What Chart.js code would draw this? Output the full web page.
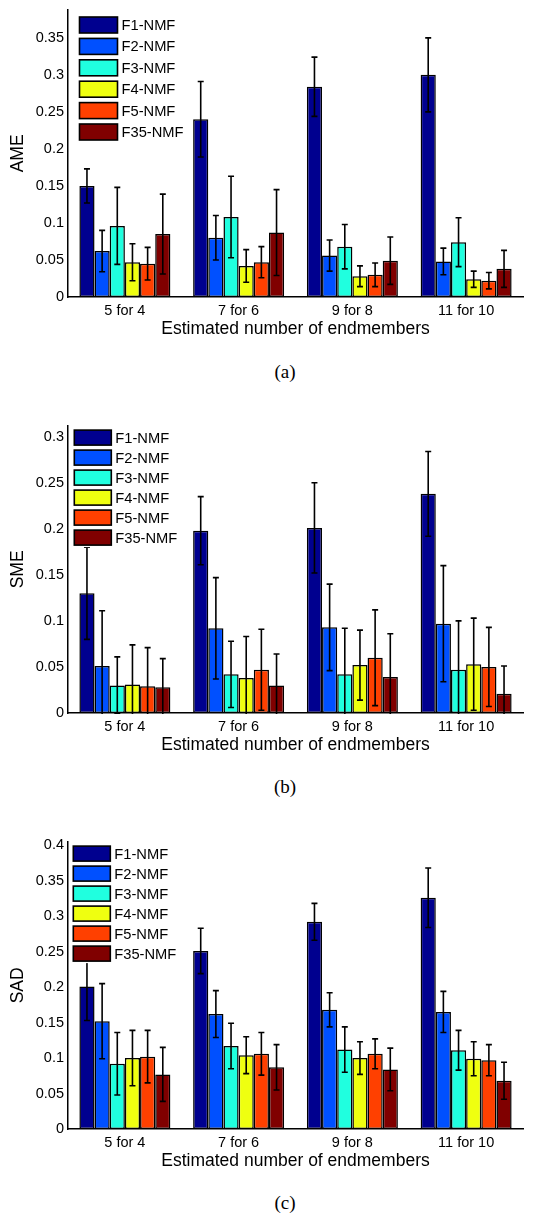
<!DOCTYPE html>
<html>
<head>
<meta charset="utf-8">
<title>AME / SME / SAD by estimated number of endmembers</title>
<script src="https://cdn.jsdelivr.net/npm/chart.js@4.4.1/dist/chart.umd.min.js"></script>
<style>
  body { margin: 0; background: #fff; width: 544px; height: 1214px; position: relative; overflow: hidden; }
  canvas { position: absolute; left: 0; }
  .caption { position: absolute; left: 285px; transform: translateX(-50%); line-height: 20px;
             font-family: 'Liberation Serif', 'Times New Roman', serif; font-size: 19px; color: #000; }
</style>
</head>
<body>
<canvas id="chartA" width="544" height="350" style="top:-3px"></canvas>
<div class="caption" style="top:362px">(a)</div>
<canvas id="chartB" width="544" height="350" style="top:413px"></canvas>
<div class="caption" style="top:777px">(b)</div>
<canvas id="chartC" width="544" height="350" style="top:829px"></canvas>
<div class="caption" style="top:1193px">(c)</div>

<script>
const categories = ['5 for 4', '7 for 6', '9 for 8', '11 for 10'];
const methods = ['F1-NMF', 'F2-NMF', 'F3-NMF', 'F4-NMF', 'F5-NMF', 'F35-NMF'];
const method_colors = ['#00008F', '#0050FF', '#20FFDF', '#EFFF10', '#FF4000', '#800000'];

// one row per method, one column per category (mean and std)
const ame_values = [
    [0.150, 0.240, 0.284, 0.300],
    [0.062, 0.080, 0.056, 0.048],
    [0.096, 0.108, 0.068, 0.074],
    [0.047, 0.042, 0.028, 0.024],
    [0.045, 0.047, 0.030, 0.022],
    [0.085, 0.087, 0.049, 0.038]
];
const ame_errors = [
    [0.023, 0.051, 0.040, 0.050],
    [0.028, 0.030, 0.021, 0.018],
    [0.052, 0.055, 0.030, 0.033],
    [0.025, 0.022, 0.014, 0.011],
    [0.022, 0.021, 0.016, 0.011],
    [0.054, 0.058, 0.032, 0.025]
];

const sme_values = [
    [0.130, 0.198, 0.201, 0.238],
    [0.051, 0.092, 0.093, 0.097],
    [0.030, 0.042, 0.042, 0.047],
    [0.031, 0.038, 0.052, 0.053],
    [0.029, 0.047, 0.060, 0.050],
    [0.028, 0.030, 0.039, 0.021]
];
const sme_errors = [
    [0.050, 0.037, 0.049, 0.046],
    [0.060, 0.055, 0.047, 0.063],
    [0.031, 0.036, 0.050, 0.053],
    [0.043, 0.045, 0.038, 0.050],
    [0.042, 0.044, 0.052, 0.043],
    [0.031, 0.034, 0.047, 0.030]
];

const sad_values = [
    [0.201, 0.251, 0.292, 0.326],
    [0.152, 0.162, 0.168, 0.165],
    [0.092, 0.117, 0.112, 0.111],
    [0.100, 0.104, 0.100, 0.099],
    [0.102, 0.106, 0.106, 0.097],
    [0.077, 0.087, 0.084, 0.068]
];
const sad_errors = [
    [0.048, 0.032, 0.026, 0.042],
    [0.053, 0.033, 0.024, 0.029],
    [0.044, 0.032, 0.032, 0.028],
    [0.039, 0.026, 0.023, 0.024],
    [0.037, 0.030, 0.021, 0.022],
    [0.038, 0.032, 0.030, 0.026]
];

Chart.defaults.font.family = "'Liberation Sans', Arial, sans-serif";
Chart.defaults.color = '#000';

// draws the +/- std whiskers on top of the bars, clipped to the axes like matlab does
const errorBarPlugin = {
    id: 'errorBars',
    afterDatasetsDraw(chart) {
        const {ctx, chartArea, scales} = chart;
        const y = scales.y;
        ctx.save();
        ctx.beginPath();
        ctx.rect(chartArea.left, chartArea.top, chartArea.right - chartArea.left, chartArea.bottom - chartArea.top + 1);
        ctx.clip();
        ctx.strokeStyle = '#000';
        ctx.lineWidth = 1.6;
        chart.data.datasets.forEach((ds, i) => {
            chart.getDatasetMeta(i).data.forEach((bar, j) => {
                const top = y.getPixelForValue(ds.data[j] + ds.errors[j]);
                const bottom = y.getPixelForValue(ds.data[j] - ds.errors[j]);
                ctx.beginPath();
                ctx.moveTo(bar.x, top);
                ctx.lineTo(bar.x, bottom);
                ctx.moveTo(bar.x - 3, top);
                ctx.lineTo(bar.x + 3, top);
                ctx.moveTo(bar.x - 3, bottom);
                ctx.lineTo(bar.x + 3, bottom);
                ctx.stroke();
            });
        });
        ctx.restore();
    }
};

// matlab style legend: big outlined swatches on a white patch in the top left corner
const boxLegendPlugin = {
    id: 'boxLegend',
    afterDraw(chart, args, opts) {
        const {ctx, chartArea} = chart;
        const x0 = chartArea.left + opts.dx;
        const y0 = chartArea.top + opts.dy;
        const datasets = chart.data.datasets;
        ctx.save();
        ctx.font = "14.7px 'Liberation Sans', Arial, sans-serif";
        let textW = 0;
        datasets.forEach(ds => { textW = Math.max(textW, ctx.measureText(ds.label).width); });
        ctx.fillStyle = '#fff';
        ctx.fillRect(x0 - 2, y0 - 2, opts.boxW + opts.gap + textW + 4, (datasets.length - 1) * opts.pitch + opts.boxH + 4);
        datasets.forEach((ds, i) => {
            const y = y0 + i * opts.pitch;
            ctx.fillStyle = ds.backgroundColor;
            ctx.fillRect(x0, y, opts.boxW, opts.boxH);
            ctx.lineWidth = 1.6;
            ctx.strokeStyle = '#000';
            ctx.strokeRect(x0, y, opts.boxW, opts.boxH);
            ctx.fillStyle = '#000';
            ctx.textBaseline = 'middle';
            ctx.fillText(ds.label, x0 + opts.boxW + opts.gap, y + opts.boxH / 2 + 1);
        });
        ctx.restore();
    }
};

function make_chart(canvas_id, y_title, values, errors, y_max, legend_opts) {
    const ctx = document.getElementById(canvas_id).getContext('2d');
    const datasets = methods.map((name, i) => ({
        label: name,
        data: values[i],
        errors: errors[i],
        backgroundColor: method_colors[i],
        borderColor: '#000',
        borderWidth: 1.5,
        borderSkipped: false,
        barPercentage: 1.0,
        categoryPercentage: 0.8
    }));

    return new Chart(ctx, {
        type: 'bar',
        data: { labels: categories, datasets: datasets },
        plugins: [errorBarPlugin, boxLegendPlugin],
        options: {
            responsive: false,
            animation: false,
            devicePixelRatio: 1,
            layout: { padding: { top: 10, right: 21, left: 0, bottom: 0 } },
            plugins: {
                legend: { display: false },
                tooltip: { enabled: false },
                boxLegend: legend_opts
            },
            scales: {
                x: {
                    grid: { display: false, drawTicks: false },
                    border: { display: true, color: '#000', width: 1.5 },
                    ticks: { padding: 5, font: { size: 14.5 }, maxRotation: 0 },
                    title: { display: true, text: 'Estimated number of endmembers', font: { size: 17.5 }, padding: { top: 0, bottom: 7 } },
                    afterFit(scale) { scale.height = 50; }
                },
                y: {
                    min: 0,
                    max: y_max,
                    grid: { display: false, drawTicks: false },
                    border: { display: true, color: '#000', width: 1.5 },
                    ticks: {
                        stepSize: 0.05,
                        includeBounds: false,
                        padding: 4,
                        font: { size: 14.5 },
                        callback: (v) => +v.toFixed(2)
                    },
                    title: { display: true, text: y_title, font: { size: 17.5 }, padding: { top: 8, bottom: 0 } },
                    afterFit(scale) { scale.width = 68; }
                }
            }
        }
    });
}

make_chart('chartA', 'AME', ame_values, ame_errors, 0.388, { dx: 11.5, dy: 7.3, pitch: 21.4, boxW: 38, boxH: 16, gap: 4 });
make_chart('chartB', 'SME', sme_values, sme_errors, 0.312, { dx: 6.3, dy: 4.4, pitch: 20, boxW: 37, boxH: 15, gap: 4 });
make_chart('chartC', 'SAD', sad_values, sad_errors, 0.405, { dx: 5.3, dy: 4.4, pitch: 20, boxW: 37, boxH: 15, gap: 4 });
</script>
</body>
</html>
